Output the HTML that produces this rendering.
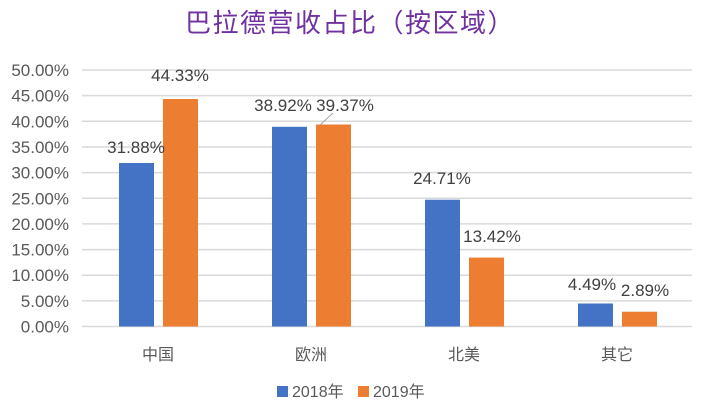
<!DOCTYPE html>
<html><head><meta charset="utf-8"><style>
body{margin:0;background:#fff;}
svg text{font-family:"Liberation Sans","Noto Sans CJK SC",sans-serif;}
</style></head><body>
<svg width="701" height="410" xmlns="http://www.w3.org/2000/svg">
<text x="350" y="32" text-anchor="middle" font-size="26" letter-spacing="1.5" fill="#7030A0">巴拉德营收占比（按区域）</text>
<g stroke="#D9D9D9" stroke-width="1.5">
<line x1="82" x2="692" y1="70" y2="70"/>
<line x1="82" x2="692" y1="95.6" y2="95.6"/>
<line x1="82" x2="692" y1="121.3" y2="121.3"/>
<line x1="82" x2="692" y1="147" y2="147"/>
<line x1="82" x2="692" y1="172.6" y2="172.6"/>
<line x1="82" x2="692" y1="198.3" y2="198.3"/>
<line x1="82" x2="692" y1="223.9" y2="223.9"/>
<line x1="82" x2="692" y1="249.6" y2="249.6"/>
<line x1="82" x2="692" y1="275.2" y2="275.2"/>
<line x1="82" x2="692" y1="300.9" y2="300.9"/>
<line x1="82" x2="692" y1="326.5" y2="326.5"/>
</g>
<g font-size="17" fill="#595959" text-anchor="end">
<text x="69" y="76">50.00%</text>
<text x="69" y="101.6">45.00%</text>
<text x="69" y="127.3">40.00%</text>
<text x="69" y="153">35.00%</text>
<text x="69" y="178.6">30.00%</text>
<text x="69" y="204.3">25.00%</text>
<text x="69" y="229.9">20.00%</text>
<text x="69" y="255.6">15.00%</text>
<text x="69" y="281.2">10.00%</text>
<text x="69" y="306.9">5.00%</text>
<text x="69" y="332.5">0.00%</text>
</g>
<g fill="#4472C4">
<rect x="119" y="163" width="35" height="163.5"/>
<rect x="272" y="126.8" width="35" height="199.7"/>
<rect x="425" y="199.7" width="35" height="126.8"/>
<rect x="578" y="303.5" width="35" height="23"/>
</g>
<g fill="#ED7D31">
<rect x="163" y="99" width="35" height="227.5"/>
<rect x="316" y="124.5" width="35" height="202"/>
<rect x="469" y="257.6" width="35" height="68.9"/>
<rect x="622" y="311.7" width="35" height="14.8"/>
</g>
<line x1="320" y1="125" x2="333" y2="113" stroke="#A6A6A6" stroke-width="1"/>
<g font-size="17" fill="#404040" text-anchor="middle">
<text x="136" y="153">31.88%</text>
<text x="180" y="81">44.33%</text>
<text x="283" y="111">38.92%</text>
<text x="345" y="111">39.37%</text>
<text x="442" y="184">24.71%</text>
<text x="492" y="242">13.42%</text>
<text x="592" y="290">4.49%</text>
<text x="645" y="296">2.89%</text>
</g>
<g font-size="16" fill="#595959" text-anchor="middle">
<text x="158" y="360">中国</text>
<text x="311" y="360">欧洲</text>
<text x="464" y="360">北美</text>
<text x="617" y="360">其它</text>
</g>
<rect x="277" y="386" width="11" height="11" fill="#4472C4"/>
<text x="292" y="397" font-size="16" fill="#595959">2018年</text>
<rect x="358" y="386" width="11" height="11" fill="#ED7D31"/>
<text x="373" y="397" font-size="16" fill="#595959">2019年</text>
</svg>
</body></html>
